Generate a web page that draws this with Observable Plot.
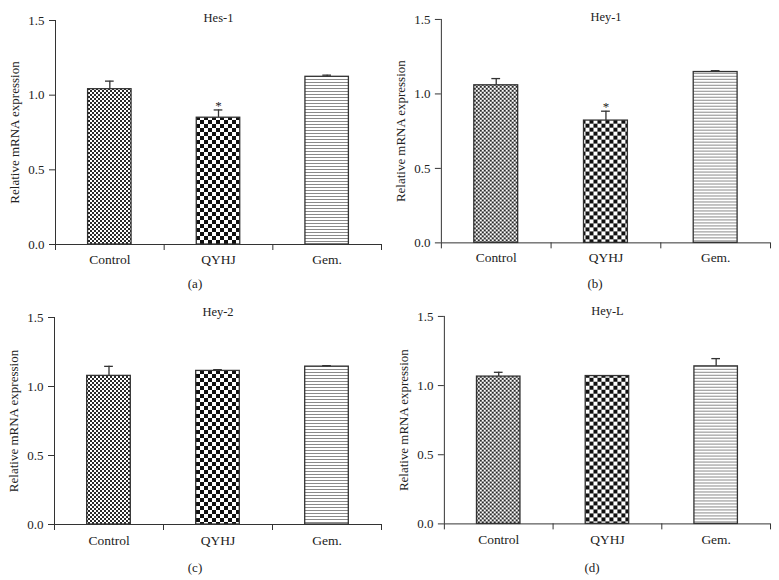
<!DOCTYPE html>
<html>
<head>
<meta charset="utf-8">
<script src="https://cdn.jsdelivr.net/npm/d3@7"></script>
<script src="https://cdn.jsdelivr.net/npm/@observablehq/plot@0.6"></script>
<style>
  body { margin: 0; background: #fff; }
  #wrap { position: relative; width: 779px; height: 580px; font-family: "Liberation Serif", "DejaVu Serif", serif; color: #222; }
  .panel { position: absolute; }
  .cap { position: absolute; font-size: 13px; line-height: 1; transform: translate(-50%, -50%); white-space: nowrap; }
</style>
</head>
<body>
<svg width="0" height="0" style="position:absolute">
  <defs>
    <pattern id="pFine" width="4" height="4" patternUnits="userSpaceOnUse">
      <rect width="4" height="4" fill="#fff"/>
      <rect width="2" height="2" fill="#2a2a2a"/>
      <rect x="2" y="2" width="2" height="2" fill="#2a2a2a"/>
    </pattern>
    <pattern id="pCoarse" width="8" height="8" patternUnits="userSpaceOnUse">
      <rect width="8" height="8" fill="#fff"/>
      <rect width="4" height="4" fill="#111"/>
      <rect x="4" y="4" width="4" height="4" fill="#111"/>
    </pattern>
    <pattern id="pLines" width="6" height="3" patternUnits="userSpaceOnUse">
      <rect width="6" height="3" fill="#fff"/>
      <rect y="1" width="6" height="1" fill="#8a8a8a"/>
    </pattern>
  </defs>
</svg>
<div id="wrap"></div>
<script>
// ---- data ----
const categories = ["Control", "QYHJ", "Gem."];
const panelTitles = ["Hes-1", "Hey-1", "Hey-2", "Hey-L"];
const panelTags = ["(a)", "(b)", "(c)", "(d)"];
const yTicks = [0, 0.5, 1.0, 1.5];
const yLabel = "Relative mRNA expression";

const hes1Mean = [1.040, 0.849, 1.123];
const hes1Err  = [0.054, 0.052, 0.011];
const hes1Sig  = ["", "*", ""];

const hey1Mean = [1.058, 0.821, 1.147];
const hey1Err  = [0.045, 0.063, 0.009];
const hey1Sig  = ["", "*", ""];

const hey2Mean = [1.077, 1.113, 1.144];
const hey2Err  = [0.069, 0.009, 0.007];
const hey2Sig  = ["", "", ""];

const heyLMean = [1.065, 1.069, 1.139];
const heyLErr  = [0.031, 0.003, 0.056];
const heyLSig  = ["", "", ""];

// ---- styles / layout ----
const categoryFills = ["url(#pFine)", "url(#pCoarse)", "url(#pLines)"];
const layouts = [
  {left: 0,   top: 0,   ml: 55, mr: 9, mt: 20, mb: 46, titleDy: -7,  labelPad: 10, capX: 195, capY: 283},
  {left: 390, top: 0,   ml: 51, mr: 9, mt: 19, mb: 47, titleDy: -7,  labelPad: 10, capX: 595, capY: 283},
  {left: 0,   top: 290, ml: 54, mr: 9, mt: 27, mb: 56, titleDy: -10, labelPad: 11, capX: 195, capY: 567},
  {left: 390, top: 290, ml: 54, mr: 9, mt: 26, mb: 56, titleDy: -10, labelPad: 11, capX: 592, capY: 567}
];
const panelData = [
  [hes1Mean, hes1Err, hes1Sig],
  [hey1Mean, hey1Err, hey1Sig],
  [hey2Mean, hey2Err, hey2Sig],
  [heyLMean, heyLErr, heyLSig]
];

const wrap = document.getElementById("wrap");
const ink = "#333";

panelData.forEach(([mean, err, sig], p) => {
  const L = layouts[p];
  const rows = categories.map((c, k) => ({k, cat: c, value: mean[k], err: err[k], sig: sig[k]}));
  const chart = Plot.plot({
    width: 390,
    height: 290,
    marginLeft: L.ml,
    marginRight: L.mr,
    marginTop: L.mt,
    marginBottom: L.mb,
    x: {domain: [0, categories.length], axis: null},
    y: {domain: [0, 1.5], axis: null},
    color: {domain: categories, range: categoryFills},
    style: {fontFamily: "Liberation Serif, DejaVu Serif, serif", fontSize: "13px", color: "#222", background: "transparent", overflow: "visible"},
    marks: [
      Plot.rectY(rows, {x1: d => d.k + 0.3, x2: d => d.k + 0.7, y1: 0, y2: "value", fill: "cat", stroke: ink, strokeWidth: 1.3}),
      Plot.ruleX(rows, {x: d => d.k + 0.5, y1: "value", y2: d => d.value + d.err, stroke: ink, strokeWidth: 1.3}),
      Plot.ruleY(rows, {y: d => d.value + d.err, x1: d => d.k + 0.46, x2: d => d.k + 0.54, stroke: ink, strokeWidth: 1.3}),
      Plot.text(rows.filter(d => d.sig), {x: d => d.k + 0.5, y: d => d.value + d.err, text: "sig", dy: -4, fontSize: 13}),
      Plot.ruleX([0], {stroke: ink, strokeWidth: 1}),
      Plot.ruleY([0], {stroke: ink, strokeWidth: 1}),
      Plot.axisY({ticks: yTicks, tickFormat: d3.format(".1f"), tickSize: 6, tickPadding: 5, stroke: ink, fontSize: 13,
        label: yLabel, labelAnchor: "center", labelArrow: "none", labelOffset: 46}),
      Plot.axisX({ticks: d3.range(categories.length + 1), tickSize: 6, tickFormat: () => "", stroke: ink, label: null}),
      Plot.axisX({ticks: categories.map((c, k) => k + 0.5), tickSize: 0, tickPadding: L.labelPad, fontSize: 13.5,
        tickFormat: v => categories[Math.floor(v)], label: null}),
      Plot.text([panelTitles[p]], {frameAnchor: "top", dy: L.titleDy, text: d => d, fontSize: 12.5})
    ]
  });
  const div = document.createElement("div");
  div.className = "panel";
  div.style.left = L.left + "px";
  div.style.top = L.top + "px";
  div.appendChild(chart);
  wrap.appendChild(div);

  const cap = document.createElement("div");
  cap.className = "cap";
  cap.style.left = L.capX + "px";
  cap.style.top = L.capY + "px";
  cap.textContent = panelTags[p];
  wrap.appendChild(cap);
});
</script>
</body>
</html>
